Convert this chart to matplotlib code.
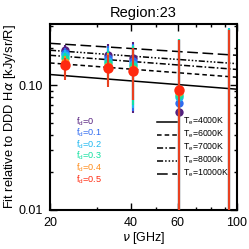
import matplotlib
matplotlib.use("Agg")
import matplotlib.pyplot as plt
import numpy as np
from matplotlib.ticker import FixedLocator, FixedFormatter, NullFormatter

plt.rcParams['font.family'] = ['Liberation Sans', 'DejaVu Sans']
plt.rcParams['mathtext.fontset'] = 'custom'
plt.rcParams['mathtext.rm'] = 'Liberation Sans'

# ---- data ----
freqs = [22.8, 33.0, 40.7, 60.8, 93.5]
fd_labels = ['0', '0.1', '0.2', '0.3', '0.4', '0.5']
fd_colors = ['#55207F', '#2F6BF0', '#1EB8F0', '#12E0A0', '#FF8C1A', '#FF2A10']
fd_values = [
    [0.192, 0.175, 0.165, 0.061, 0.004],
    [0.183, 0.166, 0.157, 0.072, 0.004],
    [0.174, 0.158, 0.149, 0.080, 0.004],
    [0.165, 0.151, 0.142, 0.084, 0.004],
    [0.155, 0.144, 0.136, 0.088, 0.004],
    [0.146, 0.138, 0.130, 0.091, 0.004],
]
fd_low = [
    [0.160, 0.135, 0.060, 0.001, 0.001],
    [0.150, 0.126, 0.062, 0.001, 0.001],
    [0.140, 0.118, 0.066, 0.001, 0.001],
    [0.130, 0.110, 0.070, 0.001, 0.001],
    [0.120, 0.103, 0.076, 0.001, 0.001],
    [0.110, 0.096, 0.076, 0.001, 0.001],
]
fd_high = [
    [0.210, 0.213, 0.222, 0.232, 0.282],
    [0.200, 0.205, 0.216, 0.234, 0.284],
    [0.192, 0.198, 0.210, 0.237, 0.286],
    [0.183, 0.190, 0.205, 0.235, 0.284],
    [0.173, 0.183, 0.200, 0.232, 0.280],
    [0.164, 0.176, 0.200, 0.229, 0.275],
]

te_labels = ['4000K', '6000K', '7000K', '8000K', '10000K']
te_freqs = [20.0, 100.0]
te_values = [
    [0.122, 0.093],
    [0.151, 0.116],
    [0.174, 0.134],
    [0.191, 0.149],
    [0.217, 0.174],
]
te_styles = ['-', (0, (3, 2)), (0, (4, 1.5, 1, 1.5)),
             (0, (4, 1.3, 1, 1.3, 1, 1.3, 1, 1.3)), (0, (7, 3))]

xticks = [20, 40, 60, 100]
xminor = [30, 50, 70, 80, 90]
yticks = [0.01, 0.1]
ytick_labels = ['0.01', '0.10']
yminor = [0.02, 0.03, 0.04, 0.05, 0.06, 0.07, 0.08, 0.09, 0.2, 0.3]

# ---- figure ----
fig = plt.figure(figsize=(2.49, 2.49), dpi=100)
ax = fig.add_axes([50/249, 39/249, 187/249, 186/249])
ax.set_xscale('log')
ax.set_yscale('log')
ax.set_xlim(20, 100)
ax.set_ylim(0.01, 0.31)

for vals, st in zip(te_values, te_styles):
    ax.plot(te_freqs, vals, color='black', lw=1.1, linestyle=st)

for i in range(len(fd_labels)):
    v = np.array(fd_values[i])
    lo = v - np.array(fd_low[i])
    hi = np.array(fd_high[i]) - v
    ms = 7.5 if i == len(fd_labels) - 1 else 6
    ecol = '#E84020' if i == len(fd_labels) - 1 else fd_colors[i]
    ax.errorbar(freqs, v, yerr=[lo, hi], fmt='o', color=fd_colors[i],
                ecolor=ecol, ms=ms, mew=0, elinewidth=1.5, capsize=1.2,
                capthick=1.2, zorder=3 + i, clip_on=True)

ax.xaxis.set_major_locator(FixedLocator(xticks))
ax.xaxis.set_major_formatter(FixedFormatter([str(t) for t in xticks]))
ax.xaxis.set_minor_locator(FixedLocator(xminor))
ax.xaxis.set_minor_formatter(NullFormatter())
ax.yaxis.set_major_locator(FixedLocator(yticks))
ax.yaxis.set_major_formatter(FixedFormatter(ytick_labels))
ax.yaxis.set_minor_locator(FixedLocator(yminor))
ax.yaxis.set_minor_formatter(NullFormatter())
ax.tick_params(which='both', direction='in', top=True, right=True,
               labelsize=9, width=1, pad=5)
ax.tick_params(which='major', length=5)
ax.tick_params(which='minor', length=2.5)
for s in ax.spines.values():
    s.set_linewidth(1.5)

ax.set_title('Region:23', fontsize=10.5, pad=5)
ax.set_xlabel(r'$\nu$ [GHz]', fontsize=9, labelpad=1)
ax.set_ylabel(r'Fit relative to DDD H$\alpha$ [kJy/sr/R]', fontsize=9.3, labelpad=0.5)

# f_d legend
for i, (lab, c) in enumerate(zip(fd_labels, fd_colors)):
    ax.text(0.14, 0.475 - i * 0.062, r'f$_\mathregular{d}$=' + lab, color=c,
            fontsize=6.6, transform=ax.transAxes, va='center', ha='left')

# T_e legend
for i, (lab, st) in enumerate(zip(te_labels, te_styles)):
    yy = 0.475 - i * 0.07
    ax.plot([0.57, 0.68], [yy, yy], color='black', lw=1.1, linestyle=st,
            transform=ax.transAxes)
    ax.text(0.71, yy, r'T$_\mathregular{e}$=' + lab, fontsize=6.3,
            transform=ax.transAxes, va='center', ha='left')

fig.savefig('out.png', dpi=100)
